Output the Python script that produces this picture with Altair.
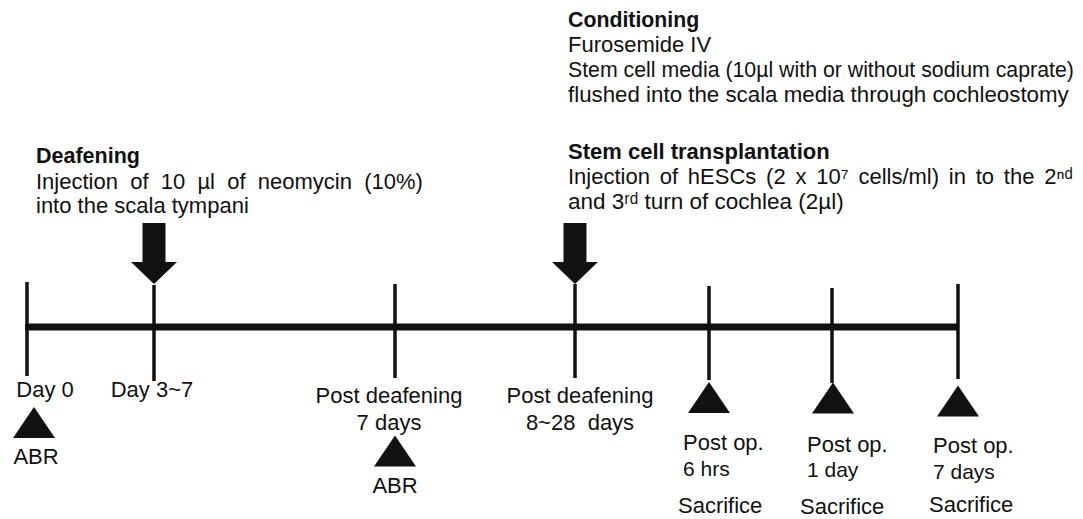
import altair as alt
import pandas as pd

# ---- timeline geometry (diagram units: one unit = one pixel of the figure) ----
tick_x      = [27, 154, 395, 575, 709, 832, 958]
tick_top    = [282, 285, 284, 284, 286, 288, 284]
tick_bottom = [376, 381, 378, 378, 380, 383, 379]

axis_start = [25]
axis_end   = [958]
axis_y     = [327]

arrow_x = [154, 575]
arrow_y = [253.5, 253.5]

tri_x = [34, 395, 709, 833, 958]
tri_y = [422.5, 451, 397.5, 398, 401]

# ---- labels ----
NB = "\u00a0"
SIX = "\u2006"
center_text = ["Day 0", "Day 3~7", "ABR", "Post deafening", "7 days", "ABR",
               "Post deafening", "8~28" + NB + " days"]
center_x = [45, 152, 36, 389, 389, 395, 580, 580]
center_y = [397, 397, 464, 403, 430, 493, 403, 430]
center_fs = [22, 22, 22, 22, 22, 22, 22, 22]

left_text = ["Post op.", "6 hrs", "Sacrifice",
             "Post op.", "1 day", "Sacrifice",
             "Post op.", "7 days", "Sacrifice",
             "Injection of 10 \u00b5l of neomycin (10%)".replace(" ", NB + NB),
             "into the scala tympani",
             "Furosemide IV",
             "Stem cell media (10\u00b5l with or without sodium caprate)",
             "flushed into the scala media through cochleostomy",
             "Injection of hESCs (2 x 10\u2077 cells/ml) in to the 2\u207f\u1d48".replace(" ", " " + SIX),
             "and 3\u02b3\u1d48 turn of cochlea (2\u00b5l)"]
left_x = [683, 683, 678,
          807, 807, 800,
          933, 933, 929,
          36, 36,
          568, 568, 568,
          568, 568]
left_y = [450, 476, 513,
          452, 477, 514,
          453, 479, 512,
          189, 213,
          52, 77, 102,
          184, 209]
left_fs = [22, 21, 22,
           22, 21, 22,
           22, 21, 22,
           22, 22,
           22, 21.3, 22.3,
           22, 22.5]

bold_text = ["Deafening", "Conditioning", "Stem cell transplantation"]
bold_x = [36, 568, 568]
bold_y = [163, 27, 159]
bold_fs = [21.5, 21.3, 22]

FONT = "Liberation Sans"
INK = "#111111"

xs = alt.Scale(domain=[8, 1075], nice=False, zero=False)
ys = alt.Scale(domain=[8, 519], nice=False, zero=False, reverse=True)

def X(f="x"):
    return alt.X(f"{f}:Q", scale=xs, axis=None)

def Y(f="y"):
    return alt.Y(f"{f}:Q", scale=ys, axis=None)

ticks_df = pd.DataFrame({"x": tick_x, "y": tick_top, "y2": tick_bottom})
axis_df = pd.DataFrame({"x": axis_start, "x2": axis_end, "y": axis_y})
arrow_df = pd.DataFrame({"x": arrow_x, "y": arrow_y})
tri_df = pd.DataFrame({"x": tri_x, "y": tri_y})
center_df = pd.DataFrame({"x": center_x, "y": center_y, "t": center_text, "fs": center_fs})
left_df = pd.DataFrame({"x": left_x, "y": left_y, "t": left_text, "fs": left_fs})
bold_df = pd.DataFrame({"x": bold_x, "y": bold_y, "t": bold_text, "fs": bold_fs})

ticks = alt.Chart(ticks_df).mark_rule(color=INK, strokeWidth=3.5).encode(
    x=X(), y=Y(), y2="y2:Q")

axis = alt.Chart(axis_df).mark_rule(color=INK, strokeWidth=7).encode(
    x=X(), x2="x2:Q", y=Y())

ARROW = "M-0.377,-1L0.377,-1L0.377,0.279L0.754,0.279L0,1L-0.754,0.279L-0.377,0.279Z"
arrows = alt.Chart(arrow_df).mark_point(
    shape=ARROW, filled=True, size=61 * 61, color=INK, opacity=1, strokeWidth=0
).encode(x=X(), y=Y())

TRI = "M0,-0.738L1,0.738L-1,0.738Z"
tris = alt.Chart(tri_df).mark_point(
    shape=TRI, filled=True, size=42 * 42, color=INK, opacity=1, strokeWidth=0
).encode(x=X(), y=Y())

def text_layer(df, **kw):
    return alt.Chart(df).mark_text(
        font=FONT, color=INK, baseline="alphabetic", **kw
    ).encode(x=X(), y=Y(), text="t:N", size=alt.Size("fs:Q", scale=None, legend=None))

center_lbl = text_layer(center_df, align="center")
left_lbl = text_layer(left_df, align="left")
bold_lbl = text_layer(bold_df, align="left", fontWeight="bold")

chart = alt.layer(axis, ticks, arrows, tris, center_lbl, left_lbl, bold_lbl).properties(
    width=1067, height=511, padding=0,
    autosize=alt.AutoSizeParams(type="none"),
    background="white",
).configure_view(stroke=None)

chart.save("out.html", embed_options={"renderer": "svg", "actions": False})
